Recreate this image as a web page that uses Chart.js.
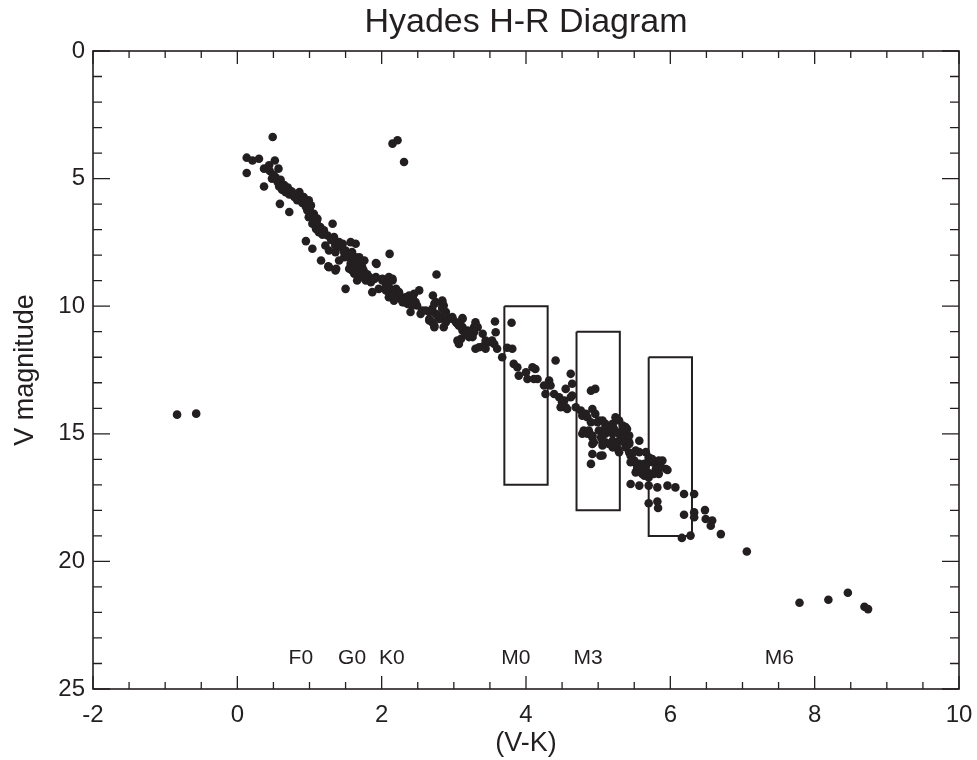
<!DOCTYPE html>
<html>
<head>
<meta charset="utf-8">
<title>Hyades H-R Diagram</title>
<script src="https://cdn.jsdelivr.net/npm/chart.js@4.4.1/dist/chart.umd.min.js"></script>
<style>
    html, body { margin: 0; padding: 0; background: #fff; }
    #wrap { width: 977px; height: 760px; position: relative; }
</style>
</head>
<body>
<div id="wrap"><canvas id="hrChart"></canvas></div>
<script>
// Hyades stars: (V-K) colour and V magnitude
const vkColor = [
    0.49, 2.15, 2.22, 2.31,
    0.13, 0.21, 0.30, 0.13, 0.37, 0.44, 0.52, 0.57, 0.37, 0.48, 0.56, 0.58, 0.62, 0.67, 0.72, 0.79,
    0.86, 0.83, 0.59, 0.72, 0.92, 0.99, 1.02, 0.97, 0.99, 1.06, 1.11, 1.04, 1.09, 1.13, 1.20, 1.32,
    1.25, 1.34, 1.41, 0.95, 1.04, 1.22, 1.27, 1.16, 1.26, 1.37, 1.41, 1.50, 1.57, 1.64, 1.48, 1.57,
    1.64, 1.69, 1.71, 1.62, 1.55,
    0.45, 0.50, 0.53, 0.60, 0.65, 0.70, 0.75, 0.80, 0.85, 0.90, 0.95, 1.00, 1.05, 1.10, 1.15, 1.18,
    1.30, 1.36, 1.45, 1.52, 1.60, 1.66, 1.75, 1.80,
    2.11, 2.76, 1.92, 1.83, 1.92, 2.01, 2.10, 2.15, 2.06, 1.50, 1.87, 1.96, 2.08, 2.19, 2.24, 2.33,
    2.43, 2.52, 2.40, 2.49, 2.56, 2.66, 2.70, 2.71, 2.75, 2.84, 2.86, 2.89, 2.98, 3.12, 2.54, 1.59,
    1.69, 1.76, 1.73, 1.36,
    1.36, 1.46, 1.48, 1.53, 1.59, 1.69, 1.73, 1.64, 1.59, 1.66, 1.71, 1.78, 1.66, 1.36, 1.27, 1.93,
    1.85, 1.90, 2.01, 2.08, 2.15, 2.06, 2.13, 2.20, 2.24, 2.10, 2.17, 2.26, 2.31, 2.38, 2.45, 2.40,
    2.75, 2.84, 2.66, 2.73, 2.80, 2.89, 2.98, 3.05, 3.12, 3.12, 3.19, 3.28, 3.30, 3.21, 3.10,
    2.10, 2.06, 2.19, 2.17, 2.24, 2.29, 2.36, 2.43, 2.47, 2.43, 2.61, 2.73, 2.84, 2.84, 2.77, 2.70,
    2.66, 2.73, 2.86, 2.89, 2.86, 3.03, 3.07, 3.12, 3.16, 3.33, 3.28, 3.26, 3.40, 3.44, 3.49, 3.53,
    3.56, 3.05, 3.07, 3.30, 3.35, 3.40, 3.44, 3.57, 3.58, 3.60, 3.67, 3.80, 3.74, 3.81, 3.83, 3.88,
    3.90, 4.00, 4.09, 4.13, 4.02, 4.11, 4.16, 4.25, 4.32, 4.34, 4.27, 4.39, 4.41, 4.46, 4.53, 4.55,
    4.62, 4.64, 4.62, 4.69, 4.48, 4.55, 4.90, 4.96, 4.76, 4.83, 4.92, 4.96, 5.01, 4.78, 4.87, 5.01,
    5.10, 5.20, 5.24, 4.92, 5.06, 5.20, 5.29, 4.92, 5.03, 5.20, 5.33, 5.38,
    4.64, 4.50, 4.57, 4.78, 4.85, 4.90, 4.99, 5.06, 5.10, 5.20, 5.29, 5.34, 5.40, 4.80, 4.85, 4.92,
    5.04, 5.10, 5.15, 5.20, 4.92, 5.06, 5.15, 5.24, 5.27, 5.34, 5.38, 5.43, 5.57, 5.38, 5.43, 5.52,
    4.90, 5.45, 5.50, 5.57, 5.54, 5.61, 5.66, 5.70, 5.75, 5.80, 5.84, 5.68, 5.64, 5.70, 5.77, 5.84,
    5.89, 5.94, 5.45, 5.57, 5.70, 5.82, 5.96, 6.07, 6.19, 6.33, 5.70, 5.82, 5.83, 6.19, 6.33, 6.33,
    6.48, 6.49, 6.58, 6.56, 6.70, 6.28, 6.16, 7.06,
    5.22, 5.29, 5.38, 5.43, 5.36, 4.94, 5.10, 5.29, 5.43, 5.06, 5.47, 5.57, 5.66, 5.70, 5.45, 5.54,
    5.64, 5.75, 5.84, 5.87, 5.96, 5.80, 5.52, 5.61, 5.73,
    -0.835, -0.57, 7.79, 8.19, 8.46, 8.69, 8.74
];
const vMag = [
    3.37, 3.63, 3.50, 4.35,
    4.18, 4.29, 4.22, 4.78, 4.61, 4.48, 4.29, 4.61, 5.31, 5.00, 5.14, 5.31, 5.44, 5.53, 5.62, 5.72,
    5.53, 5.85, 5.99, 6.31, 5.72, 5.85, 6.05, 6.25, 6.51, 6.38, 6.57, 6.77, 6.97, 7.10, 7.03, 6.77,
    7.23, 7.29, 7.49, 7.45, 7.75, 7.62, 7.82, 8.21, 8.44, 8.53, 8.21, 7.82, 7.49, 7.55, 8.08, 8.34,
    8.08, 8.53, 8.73, 8.73, 8.53,
    4.70, 4.85, 4.95, 5.05, 5.25, 5.35, 5.50, 5.60, 5.80, 5.95, 6.10, 6.20, 6.50, 6.70, 6.90, 7.20,
    7.40, 7.60, 7.70, 8.00, 8.20, 8.40, 8.60, 8.75,
    7.95, 8.76, 8.31, 8.86, 8.86, 8.93, 8.86, 8.99, 9.12, 9.32, 9.45, 9.32, 9.38, 9.38, 9.52, 9.65,
    9.58, 9.38, 9.84, 9.97, 10.17, 10.23, 10.10, 9.58, 9.84, 9.78, 9.97, 10.23, 10.43, 10.46, 10.30, 7.88,
    8.08, 8.21, 8.47, 7.88,
    7.62, 7.55, 7.88, 8.08, 8.01, 8.14, 8.27, 8.40, 8.60, 8.73, 8.86, 8.99, 8.99, 8.60, 8.47, 8.34,
    9.06, 8.93, 8.99, 9.06, 8.93, 9.25, 9.38, 9.32, 9.45, 9.65, 9.78, 9.71, 9.84, 9.58, 9.51, 10.23,
    10.30, 10.04, 10.56, 10.76, 10.50, 10.37, 10.50, 10.69, 10.50, 10.82, 10.95, 10.82, 10.63, 11.21, 11.28,
    9.25, 9.38, 9.65, 9.38, 9.51, 9.84, 9.91, 9.65, 9.84, 9.97, 10.17, 9.91, 9.84, 10.10, 10.36, 10.63,
    10.50, 10.82, 10.36, 10.63, 10.82, 10.63, 10.76, 10.95, 11.08, 10.82, 11.02, 11.21, 11.08, 11.35, 11.41, 11.35,
    11.48, 11.35, 11.48, 11.67, 11.61, 11.58, 11.67, 10.60, 11.02, 11.67, 12.00, 10.65, 11.63, 11.67, 12.26, 12.39,
    12.72, 12.59, 12.39, 12.46, 12.85, 12.85, 12.85, 13.11, 12.91, 13.11, 13.44, 13.44, 12.13, 13.57, 13.70, 13.24,
    12.65, 13.04, 13.57, 13.96, 13.96, 13.96, 13.31, 13.24, 14.09, 14.22, 14.03, 14.22, 14.48, 15.00, 14.87, 14.87,
    14.74, 14.61, 14.35, 15.14, 15.33, 15.00, 15.27, 15.79, 15.86, 15.53, 14.87, 14.74,
    13.50, 13.76, 14.03, 14.29, 14.35, 14.55, 14.55, 14.48, 14.61, 14.68, 14.48, 14.68, 14.81, 14.87, 15.00, 15.07,
    15.14, 15.00, 14.87, 15.27, 15.40, 15.46, 15.40, 15.46, 15.59, 15.27, 15.14, 15.33, 15.27, 15.53, 15.73, 15.66,
    16.18, 15.86, 16.05, 16.18, 16.38, 16.38, 16.25, 16.05, 15.99, 16.18, 16.38, 16.51, 16.64, 16.71, 16.57, 16.57,
    16.05, 16.38, 16.97, 17.03, 17.03, 17.10, 17.03, 17.10, 17.36, 17.36, 17.72, 17.65, 17.91, 18.17, 18.08, 18.27,
    17.99, 18.34, 18.40, 18.60, 18.93, 18.99, 19.08, 19.61,
    14.81, 15.00, 14.81, 15.07, 15.33, 15.33, 15.33, 15.72, 15.40, 15.85, 15.79, 15.72, 15.72, 15.92, 16.11, 16.25,
    16.18, 16.11, 16.05, 16.31, 16.42, 16.38, 16.51, 16.57, 16.57,
    14.25, 14.21, 21.62, 21.50, 21.23, 21.78, 21.87
];

// rectangles drawn on the plot: colour range and magnitude range
const boxVK = [[3.7, 4.3], [4.7, 5.3], [5.7, 6.3]];
const boxV = [[10, 17], [11, 18], [12, 19]];

// spectral type labels near the bottom
const spectralTypes = ['F0', 'G0', 'K0', 'M0', 'M3', 'M6'];
const spectralVK = [0.88, 1.59, 2.14, 3.86, 4.86, 7.51];
const spectralV = 23.8;

const xTickLabels = ['-2', '0', '2', '4', '6', '8', '10'];
const yTickLabels = ['0', '5', '10', '15', '20', '25'];
const chartTitle = 'Hyades H-R Diagram';

const INK = '#231f20';
const FONT = "'Liberation Sans', Arial, Helvetica, sans-serif";

const stars = vkColor.map((x, i) => ({ x: x, y: vMag[i] }));

const boxDatasets = boxVK.map((bx, i) => ({
    type: 'line',
    data: [
        { x: bx[0], y: boxV[i][0] },
        { x: bx[1], y: boxV[i][0] },
        { x: bx[1], y: boxV[i][1] },
        { x: bx[0], y: boxV[i][1] },
        { x: bx[0], y: boxV[i][0] }
    ],
    borderColor: INK,
    borderWidth: 2,
    pointRadius: 0,
    fill: false,
    tension: 0
}));

// frame with inward ticks on all four sides, title over the plot, spectral labels
const framePlugin = {
    id: 'frameTicks',
    afterDraw(chart) {
        const { ctx, chartArea: a, scales } = chart;
        const xs = scales.x, ys = scales.y;
        ctx.save();
        ctx.strokeStyle = INK;
        ctx.lineWidth = 1.6;
        ctx.strokeRect(a.left, a.top, a.right - a.left, a.bottom - a.top);

        ctx.lineWidth = 1.3;
        ctx.beginPath();
        for (let v = -2; v <= 10.001; v += 0.5) {
            const px = xs.getPixelForValue(v);
            const len = Math.abs(v % 2) < 0.001 ? 13 : 7;
            ctx.moveTo(px, a.bottom); ctx.lineTo(px, a.bottom - len);
            ctx.moveTo(px, a.top); ctx.lineTo(px, a.top + len);
        }
        for (let v = 0; v <= 25.001; v += 1) {
            const py = ys.getPixelForValue(v);
            const len = v % 5 === 0 ? 17 : 9;
            ctx.moveTo(a.left, py); ctx.lineTo(a.left + len, py);
            ctx.moveTo(a.right, py); ctx.lineTo(a.right - len, py);
        }
        ctx.stroke();

        ctx.fillStyle = INK;
        ctx.textAlign = 'center';
        ctx.textBaseline = 'middle';
        ctx.font = '34px ' + FONT;
        ctx.fillText(chartTitle, (a.left + a.right) / 2, 23);

        ctx.font = '21px ' + FONT;
        spectralTypes.forEach((t, i) => {
            ctx.fillText(t, xs.getPixelForValue(spectralVK[i]), ys.getPixelForValue(spectralV));
        });
        ctx.restore();
    }
};

new Chart(document.getElementById('hrChart'), {
    type: 'scatter',
    data: {
        datasets: [{
            data: stars,
            backgroundColor: INK,
            borderWidth: 0,
            pointRadius: 4.3,
            pointHoverRadius: 4.3
        }].concat(boxDatasets)
    },
    options: {
        responsive: true,
        maintainAspectRatio: false,
        animation: false,
        layout: { padding: { left: 0, right: 18, top: 51, bottom: 0 } },
        plugins: {
            legend: { display: false },
            tooltip: { enabled: false },
            title: { display: false }
        },
        scales: {
            x: {
                type: 'linear',
                min: -2,
                max: 10,
                grid: { display: false, drawTicks: false, tickLength: 0 },
                border: { display: false },
                ticks: {
                    stepSize: 2,
                    padding: 12,
                    color: INK,
                    font: { family: FONT, size: 24 },
                    maxRotation: 0,
                    callback: (v) => xTickLabels[Math.round((v + 2) / 2)]
                },
                title: {
                    display: true,
                    text: '(V-K)',
                    color: INK,
                    font: { family: FONT, size: 27 },
                    padding: { top: 0, bottom: 0 }
                },
                afterFit(scale) {
                    scale.height = 71;
                    scale.paddingLeft = 0;
                    scale.paddingRight = 0;
                }
            },
            y: {
                type: 'linear',
                reverse: true,
                min: 0,
                max: 25,
                grid: { display: false, drawTicks: false, tickLength: 0 },
                border: { display: false },
                ticks: {
                    stepSize: 5,
                    padding: 8,
                    color: INK,
                    font: { family: FONT, size: 24 },
                    callback: (v) => yTickLabels[Math.round(v / 5)]
                },
                title: {
                    display: true,
                    text: 'V magnitude',
                    color: INK,
                    font: { family: FONT, size: 27 },
                    padding: { top: 9, bottom: 0 }
                },
                afterFit(scale) {
                    scale.width = 93;
                    scale.paddingTop = 0;
                    scale.paddingBottom = 0;
                }
            }
        }
    },
    plugins: [framePlugin]
});
</script>
</body>
</html>
